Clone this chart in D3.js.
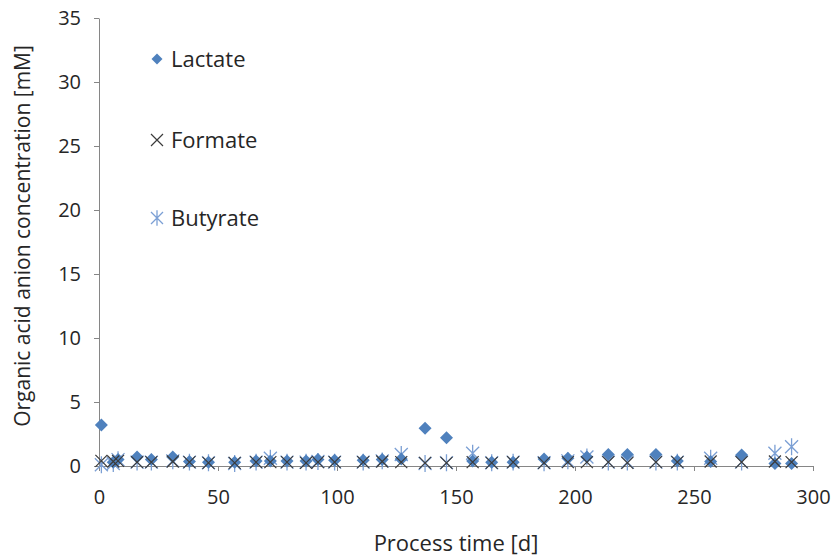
<!DOCTYPE html>
<html>
<head>
<meta charset="utf-8">
<script src="https://cdn.jsdelivr.net/npm/d3@7"></script>
<style>
  body { margin: 0; background: #fff; }
  text { font-family: "Open Sans", "Liberation Sans", sans-serif; fill: #262626; }
</style>
</head>
<body>
<div id="chart"></div>
<script>
// sampling days and measured concentrations [mM]
var days     = [1, 6, 8, 16, 22, 31, 38, 46, 57, 66, 72, 79, 87, 92, 99, 111, 119, 127, 137, 146, 157, 165, 174, 187, 197, 205, 214, 222, 234, 243, 257, 270, 284, 291];
var lactate  = [3.2, 0.3, 0.5, 0.7, 0.5, 0.7, 0.35, 0.3, 0.3, 0.4, 0.4, 0.4, 0.4, 0.5, 0.45, 0.45, 0.5, 0.55, 2.95, 2.2, 0.4, 0.3, 0.3, 0.55, 0.6, 0.7, 0.9, 0.9, 0.9, 0.4, 0.35, 0.85, 0.2, 0.2];
var formate  = [0.4, 0.35, 0.4, 0.3, 0.3, 0.35, 0.3, 0.25, 0.25, 0.3, 0.3, 0.3, 0.25, 0.3, 0.3, 0.3, 0.35, 0.3, 0.25, 0.25, 0.3, 0.25, 0.3, 0.25, 0.3, 0.3, 0.3, 0.25, 0.3, 0.3, 0.35, 0.3, 0.35, 0.3];
var butyrate = [0.1, 0.2, 0.5, 0.3, 0.3, 0.4, 0.3, 0.25, 0.2, 0.3, 0.6, 0.3, 0.3, 0.35, 0.3, 0.3, 0.4, 0.9, 0.2, 0.25, 1.0, 0.25, 0.3, 0.25, 0.4, 0.7, 0.3, 0.3, 0.3, 0.3, 0.6, 0.3, 1.0, 1.5];
var xTicks = [0, 50, 100, 150, 200, 250, 300];
var yTicks = [0, 5, 10, 15, 20, 25, 30, 35];

var margin = { top: 18, right: 26, bottom: 94, left: 99 },
    W = 839, H = 560,
    width = W - margin.left - margin.right,
    height = H - margin.top - margin.bottom;

var x = d3.scaleLinear().domain([0, 300]).range([0, width]);
var y = d3.scaleLinear().domain([0, 35]).range([height, 0]);

var svg = d3.select("#chart").append("svg")
    .attr("width", W)
    .attr("height", H);
var g = svg.append("g")
    .attr("transform", "translate(" + margin.left + "," + margin.top + ")");

// axes
var xAxis = g.append("g")
    .attr("transform", "translate(0," + height + ")")
    .call(d3.axisBottom(x).tickValues(xTicks).tickSize(5).tickSizeOuter(0).tickPadding(19));
var yAxis = g.append("g")
    .call(d3.axisLeft(y).tickValues(yTicks).tickSize(5).tickSizeOuter(0).tickPadding(13));
[xAxis, yAxis].forEach(function (a) {
    a.selectAll("path, line").attr("stroke", "#868686");
    a.selectAll("text").style("font-size", "20px").attr("fill", "#262626");
});

// axis titles
svg.append("text")
    .attr("x", margin.left + x(150))
    .attr("y", 551)
    .attr("text-anchor", "middle")
    .style("font-size", "22px")
    .text("Process time [d]");
svg.append("text")
    .attr("transform", "translate(30,236) rotate(-90)")
    .attr("text-anchor", "middle")
    .style("font-size", "21px")
    .text("Organic acid anion concentration [mM]");

// marker shapes
function diamond(s) { return "M0," + (-s) + "L" + s + ",0L0," + s + "L" + (-s) + ",0Z"; }
function cross(s) { return "M" + (-s) + "," + (-s) + "L" + s + "," + s + "M" + (-s) + "," + s + "L" + s + "," + (-s); }
function star(s) { return cross(s) + "M0," + (-s * 1.3) + "L0," + (s * 1.3); }

var series = [
    { name: "Lactate", values: lactate, path: diamond(6.5), fill: "#4f81bd", stroke: "none", sw: 0, leg: diamond(5.5) },
    { name: "Formate", values: formate, path: cross(6), fill: "none", stroke: "#3b3b3b", sw: 1.2, leg: cross(6) },
    { name: "Butyrate", values: butyrate, path: star(6.5), fill: "none", stroke: "#7b9fd4", sw: 1.3, leg: star(6) }
];

// draw butyrate first so lactate/formate sit on top, as in the original
[series[2], series[0], series[1]].forEach(function (s) {
    g.append("g").selectAll("path")
        .data(days)
        .join("path")
        .attr("transform", function (d, i) { return "translate(" + x(d) + "," + y(s.values[i]) + ")"; })
        .attr("d", s.path)
        .attr("fill", s.fill)
        .attr("stroke", s.stroke)
        .attr("stroke-width", s.sw);
});

// legend
var legendRows = [59, 140, 218];
var legend = svg.append("g").attr("transform", "translate(157,0)");
series.forEach(function (s, i) {
    var row = legend.append("g").attr("transform", "translate(0," + legendRows[i] + ")");
    row.append("path").attr("d", s.leg)
        .attr("fill", s.fill).attr("stroke", s.stroke).attr("stroke-width", s.sw);
    row.append("text").attr("x", 14).attr("dy", "0.36em")
        .style("font-size", "22px").text(s.name);
});
</script>
</body>
</html>
